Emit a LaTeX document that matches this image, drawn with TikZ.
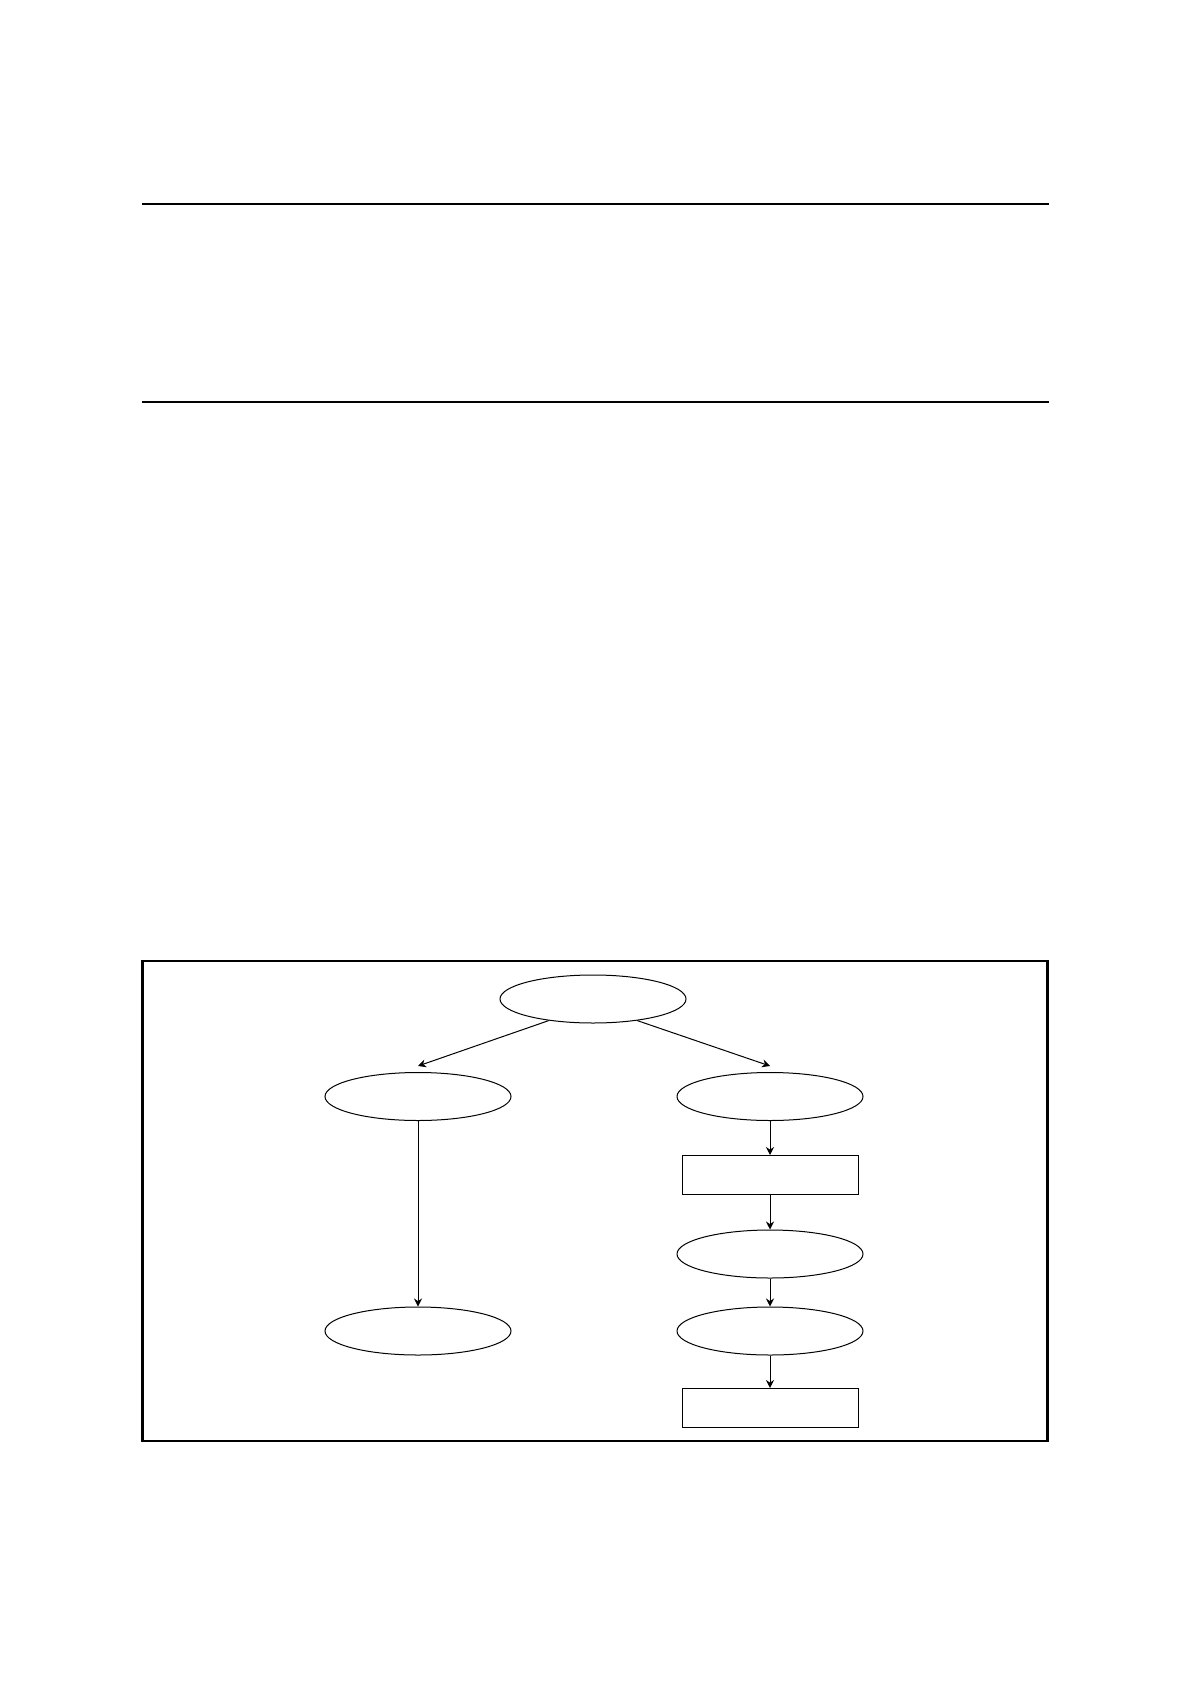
\documentclass[tikz,border=0pt]{standalone}
\usetikzlibrary{shapes.geometric,arrows.meta}

\tikzset{
    elipse/.style={draw, ellipse, line width=0.5pt, minimum width=93pt, minimum height=24pt, inner sep=0pt},
    caja/.style={draw, rectangle, line width=0.5pt, minimum width=88pt, minimum height=19.5pt, inner sep=0pt},
    flecha/.style={line width=0.5pt, -{Stealth[length=4pt,width=4pt]}}
}

\begin{document}
\begin{tikzpicture}[x=0.5pt, y=-0.5pt]

    \useasboundingbox (0, 0) rectangle (1190, 1684);

    \def\colIzq{418}
    \def\colDer{770}
    \def\colCentro{593}

    % Reglas superiores
    \draw[line width=0.65pt] (142, 204) -- (1049, 204);
    \draw[line width=0.65pt] (142, 402) -- (1049, 402);

    % Marco
    \draw[line width=1.2pt] (142.5, 961) rectangle (1047.5, 1441);

    \node[elipse] (raiz) at (\colCentro, 999) {};
    \node[elipse] (izq)  at (\colIzq, 1096.5) {};
    \node[elipse] (der)  at (\colDer, 1096.5) {};
    \node[caja]   (cajaA) at (\colDer, 1175) {};
    \node[elipse] (derB) at (\colDer, 1254) {};
    \node[elipse] (izqC) at (\colIzq, 1331) {};
    \node[elipse] (derC) at (\colDer, 1331) {};
    \node[caja]   (cajaB) at (\colDer, 1408) {};

    \draw[flecha] (raiz.206) -- ([yshift=3pt]izq.north);
    \draw[flecha] (raiz.334) -- ([yshift=3pt]der.north);
    \draw[flecha] (izq) -- (izqC);
    \draw[flecha] (der) -- (cajaA);
    \draw[flecha] (cajaA) -- (derB);
    \draw[flecha] (derB) -- (derC);
    \draw[flecha] (derC) -- (cajaB);

\end{tikzpicture}
\end{document}
